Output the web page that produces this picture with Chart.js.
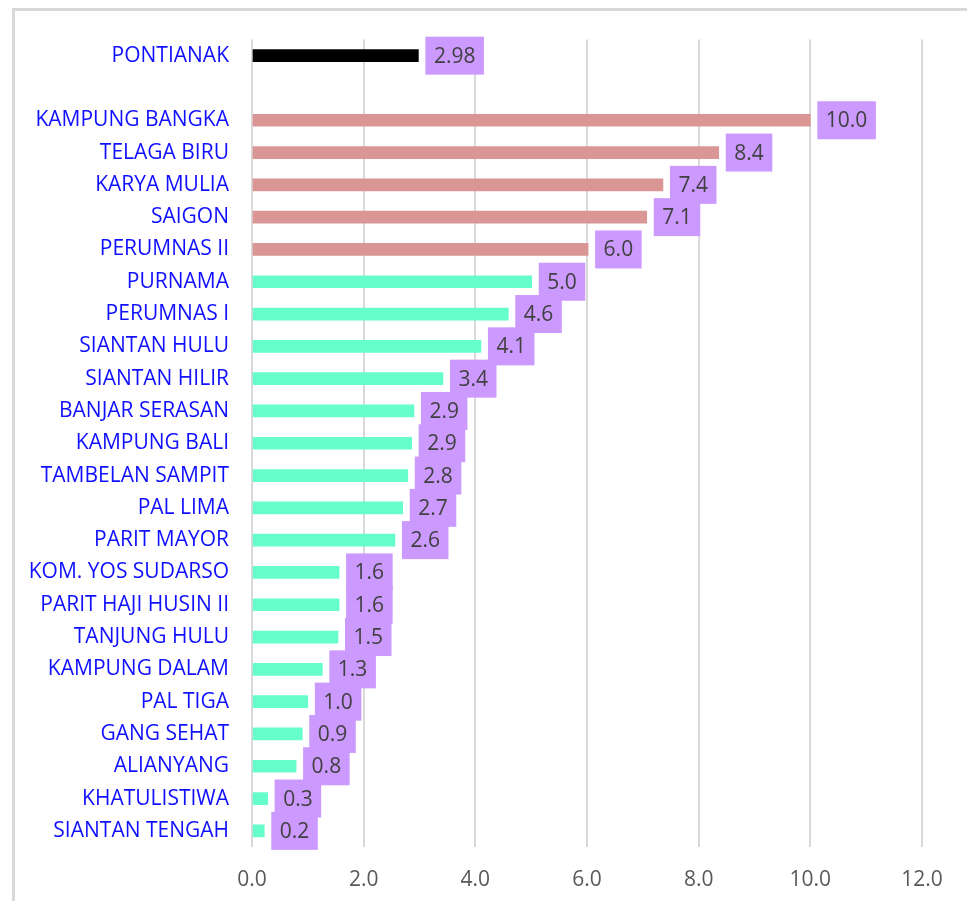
<!DOCTYPE html>
<html>
<head>
<meta charset="utf-8">
<script src="https://cdn.jsdelivr.net/npm/chart.js@4/dist/chart.umd.min.js"></script>
<style>
  html, body { margin: 0; padding: 0; background: #fff; overflow: hidden; }
  .frame { position: absolute; left: 12px; top: 8px; width: 2000px; height: 2000px; border: 3px solid #d9d9d9; }
  #chart { position: absolute; left: 0; top: 0; }
</style>
</head>
<body>
<div class="frame"></div>
<canvas id="chart" width="967" height="901"></canvas>
<script>
'use strict';

// city average, then the high and low kelurahan groups
const cityName = ['PONTIANAK']
const cityValue = [2.98]

const highNames = ['KAMPUNG BANGKA', 'TELAGA BIRU', 'KARYA MULIA', 'SAIGON', 'PERUMNAS II']
const highValues = [10.0, 8.36, 7.36, 7.07, 6.02]

const lowNames = ['PURNAMA', 'PERUMNAS I', 'SIANTAN HULU', 'SIANTAN HILIR', 'BANJAR SERASAN',
    'KAMPUNG BALI', 'TAMBELAN SAMPIT', 'PAL LIMA', 'PARIT MAYOR', 'KOM. YOS SUDARSO',
    'PARIT HAJI HUSIN II', 'TANJUNG HULU', 'KAMPUNG DALAM', 'PAL TIGA', 'GANG SEHAT',
    'ALIANYANG', 'KHATULISTIWA', 'SIANTAN TENGAH']
const lowValues = [5.01, 4.59, 4.10, 3.42, 2.90, 2.86, 2.79, 2.70, 2.56, 1.56,
    1.56, 1.54, 1.26, 1.0, 0.9, 0.79, 0.28, 0.22]

const xTicks = [0, 2, 4, 6, 8, 10, 12]

// one empty row between the city and the kelurahan
const labels = [...cityName, '', ...highNames, ...lowNames]
const values = [...cityValue, null, ...highValues, ...lowValues]
const colors = [
    ...cityName.map(() => '#000000'),
    'rgba(0,0,0,0)',
    ...highNames.map(() => '#DA9694'),
    ...lowNames.map(() => '#66FFCC')
]

const valueBoxes = {
    id: 'valueBoxes',
    afterDatasetsDraw(chart) {
        const ctx = chart.ctx
        const meta = chart.getDatasetMeta(0)
        ctx.save()
        ctx.font = '21px "Open Sans"'
        ctx.textBaseline = 'middle'
        ctx.textAlign = 'center'
        meta.data.forEach((bar, i) => {
            const v = values[i]
            if (v === null) return
            const text = i === 0 ? v.toFixed(2) : v.toFixed(1)
            const w = ctx.measureText(text).width + 17
            const left = bar.x + 7
            ctx.fillStyle = '#CC99FF'
            ctx.fillRect(left, bar.y - 19, w, 38)
            ctx.fillStyle = '#404040'
            ctx.fillText(text, left + w / 2, bar.y + 1)
        })
        ctx.restore()
    }
}

const ctx = document.getElementById('chart').getContext('2d')
const chart = new Chart(ctx, {
    type: 'bar',
    data: {
        labels: labels,
        datasets: [{
            data: values,
            backgroundColor: colors,
            barThickness: 12,
        }]
    },
    options: {
        indexAxis: 'y',
        responsive: false,
        animation: false,
        layout: {
            padding: { top: 39.5, right: 45, left: 0, bottom: 0 }
        },
        plugins: {
            legend: { display: false },
            tooltip: { enabled: false }
        },
        scales: {
            x: {
                min: 0,
                max: 12,
                afterBuildTicks: (scale) => { scale.ticks = xTicks.map((v) => ({ value: v })) },
                afterFit: (scale) => { scale.height = 54 },
                border: { display: false },
                grid: { color: '#d9d9d9', lineWidth: 2, drawTicks: false },
                ticks: {
                    padding: 20,
                    color: '#595959',
                    font: { family: 'Open Sans', size: 21 },
                    callback: (v) => Number(v).toFixed(1)
                }
            },
            y: {
                afterFit: (scale) => { scale.width = 252 },
                border: { display: false },
                grid: { display: false },
                ticks: {
                    padding: 15,
                    autoSkip: false,
                    color: '#1010ff',
                    font: { family: 'Open Sans', size: 21 }
                }
            }
        }
    },
    plugins: [valueBoxes]
});
</script>
</body>
</html>
